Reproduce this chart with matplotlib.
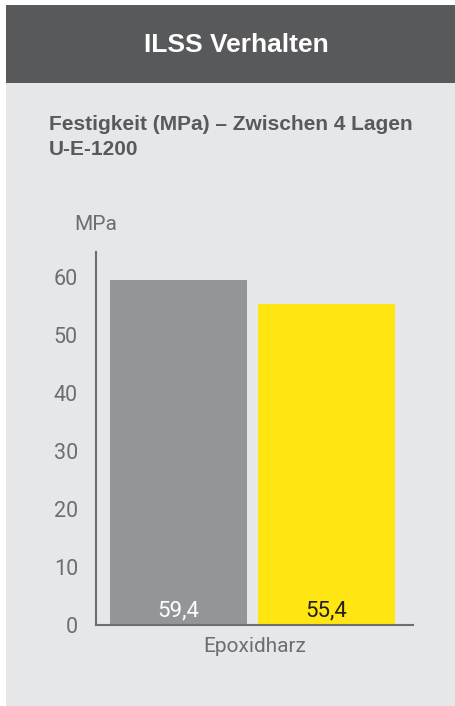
import matplotlib
matplotlib.use("Agg")
import matplotlib.pyplot as plt
from matplotlib.patches import Rectangle

# data
category = "Epoxidharz"
series_names = ["Referenz", "U-E-1200"]
values = [59.4, 55.4]
value_labels = ["59,4", "55,4"]
yticks = [0, 10, 20, 30, 40, 50, 60]

W, H = 456, 706
fig = plt.figure(figsize=(W / 100, H / 100), dpi=100)
fig.patch.set_facecolor("white")

def fx(px):
    return px / W

def fy(py):
    return 1 - py / H

# panel background + header bar
fig.patches.append(Rectangle((fx(6), 0), 1 - fx(6), fy(83), transform=fig.transFigure,
                             facecolor="#e6e7e8", edgecolor="none", zorder=-5))
fig.patches.append(Rectangle((fx(6), fy(83)), 1 - fx(6), fy(5) - fy(83), transform=fig.transFigure,
                             facecolor="#58595b", edgecolor="none", zorder=-5))

fig.text(fx(236), fy(45), "ILSS Verhalten", color="white", fontsize=19, fontweight="bold",
         family="Liberation Sans", ha="center", va="center")
fig.text(fx(49), fy(130), "Festigkeit (MPa) \u2013 Zwischen 4 Lagen", color="#58595b",
         fontsize=15, fontweight="bold", family="Liberation Sans", ha="left", va="baseline")
fig.text(fx(49), fy(155), "U-E-1200", color="#58595b",
         fontsize=15, fontweight="bold", family="Liberation Sans", ha="left", va="baseline")

label_color = "#6d6e71"
ax = fig.add_axes([fx(96), fy(625), fx(413) - fx(96), fy(252) - fy(625)])
ax.set_facecolor("none")

colors = ["#939598", "#ffe512"]
offsets = [-0.555, 0.526]
for off, v, c, lab, tc in zip(offsets, values, colors, value_labels, ["white", "#231f20"]):
    ax.bar(off, v, width=1.0, color=c, zorder=2)
    ax.text(off, 2.5, lab, ha="center", va="center", color=tc, fontsize=16,
            family="Roboto", fontweight="normal", zorder=3)

ax.set_xlim(-1.157, 1.157)
ax.set_ylim(0, 64.3)
ax.set_yticks(yticks)
ax.set_yticklabels([str(t) for t in yticks], color=label_color, fontsize=15.5,
                   family="Roboto", fontweight="normal")
ax.tick_params(axis="y", length=0, pad=13)
ax.set_xticks([0])
ax.set_xticklabels([category], color=label_color, fontsize=15, family="Roboto", fontweight="normal")
ax.tick_params(axis="x", length=0, pad=9)

for s in ["top", "right"]:
    ax.spines[s].set_visible(False)
for s in ["left", "bottom"]:
    ax.spines[s].set_color("#6d6e71")
    ax.spines[s].set_linewidth(1.5)
    ax.spines[s].set_zorder(4)

fig.text(fx(96), fy(225), "MPa", color=label_color, fontsize=15, family="Roboto",
         fontweight="normal", ha="center", va="center")

fig.savefig("out.png", dpi=100)
